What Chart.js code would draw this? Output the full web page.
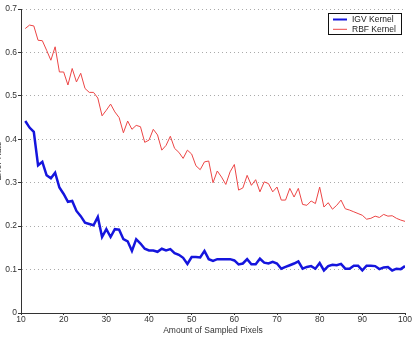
<!DOCTYPE html>
<html>
<head>
<meta charset="utf-8">
<script src="https://cdn.jsdelivr.net/npm/chart.js@4/dist/chart.umd.min.js"></script>
<style>
  html, body { margin: 0; padding: 0; background: #fff; overflow: hidden; }
  #wrap { width: 414px; height: 337px; overflow: hidden; position: relative; }
  #box { position: absolute; left: -6px; top: 0; width: 420px; height: 337px; }
</style>
</head>
<body>
<div id="wrap"><div id="box"><canvas id="c" width="420" height="337"></canvas></div></div>
<script>
const sampledPixels = [11,12,13,14,15,16,17,18,19,20,21,22,23,24,25,26,27,28,29,30,
  31,32,33,34,35,36,37,38,39,40,41,42,43,44,45,46,47,48,49,50,
  51,52,53,54,55,56,57,58,59,60,61,62,63,64,65,66,67,68,69,70,
  71,72,73,74,75,76,77,78,79,80,81,82,83,84,85,86,87,88,89,90,
  91,92,93,94,95,96,97,98,99,100];

const igvKernel = [0.442,0.427,0.417,0.340,0.348,0.317,0.310,0.323,0.289,0.274,
  0.256,0.258,0.235,0.223,0.208,0.205,0.202,0.221,0.175,0.193,
  0.175,0.193,0.192,0.170,0.165,0.143,0.170,0.160,0.148,0.144,
  0.144,0.141,0.148,0.144,0.147,0.138,0.134,0.127,0.113,0.129,
  0.129,0.128,0.143,0.124,0.120,0.124,0.124,0.124,0.124,0.121,
  0.112,0.114,0.124,0.112,0.112,0.125,0.116,0.114,0.118,0.114,
  0.102,0.106,0.110,0.114,0.119,0.102,0.106,0.108,0.102,0.115,
  0.098,0.108,0.111,0.110,0.113,0.102,0.102,0.109,0.109,0.098,
  0.109,0.109,0.108,0.101,0.105,0.106,0.098,0.102,0.101,0.108];

const rbfKernel = [0.655,0.663,0.661,0.628,0.627,0.605,0.582,0.613,0.555,0.555,
  0.525,0.563,0.532,0.552,0.517,0.508,0.508,0.495,0.454,0.467,
  0.481,0.463,0.450,0.415,0.442,0.423,0.432,0.429,0.393,0.398,
  0.423,0.410,0.375,0.386,0.407,0.379,0.370,0.356,0.375,0.366,
  0.339,0.330,0.348,0.350,0.300,0.327,0.313,0.296,0.325,0.342,
  0.283,0.288,0.317,0.294,0.307,0.279,0.302,0.298,0.279,0.290,
  0.260,0.260,0.287,0.267,0.287,0.250,0.248,0.258,0.252,0.290,
  0.244,0.254,0.239,0.248,0.260,0.240,0.237,0.233,0.229,0.225,
  0.216,0.218,0.223,0.220,0.227,0.223,0.224,0.218,0.214,0.211];

const seriesNames = ['IGV Kernel', 'RBF Kernel'];
const xTicks = [10,20,30,40,50,60,70,80,90,100];
const yTicks = [0,0.1,0.2,0.3,0.4,0.5,0.6,0.7];
const xTitle = 'Amount of Sampled Pixels';
const yTitle = 'Error Rate';

const FONT = 'Liberation Sans, Arial, Helvetica, sans-serif';

const insideLegend = {
  id: 'insideLegend',
  afterDraw(chart) {
    const ctx = chart.ctx;
    const area = chart.chartArea;
    const x0 = area.right - 77, y0 = area.top + 4, w = 73, h = 21;
    ctx.save();
    ctx.fillStyle = '#fff';
    ctx.fillRect(x0, y0, w, h);
    ctx.strokeStyle = '#111';
    ctx.lineWidth = 1;
    ctx.strokeRect(Math.round(x0) + 0.5, Math.round(y0) + 0.5, w, h);
    ctx.font = '8.5px ' + FONT;
    ctx.textBaseline = 'middle';
    chart.data.datasets.forEach((ds, i) => {
      const cy = y0 + 6.5 + i * 9.8;
      ctx.strokeStyle = ds.borderColor;
      ctx.lineWidth = i === 0 ? 2 : 1;
      ctx.beginPath();
      ctx.moveTo(x0 + 5, cy);
      ctx.lineTo(x0 + 19, cy);
      ctx.stroke();
      ctx.fillStyle = '#222';
      ctx.fillText(ds.label, x0 + 24, cy + 0.5);
    });
    ctx.restore();
  }
};

new Chart(document.getElementById('c'), {
  type: 'line',
  data: {
    datasets: [
      {
        label: seriesNames[0],
        data: sampledPixels.map((x, i) => ({x: x, y: igvKernel[i]})),
        borderColor: '#1515dd',
        borderWidth: 2.5,
        pointRadius: 0,
        tension: 0,
        fill: false
      },
      {
        label: seriesNames[1],
        data: sampledPixels.map((x, i) => ({x: x, y: rbfKernel[i]})),
        borderColor: '#ec4545',
        borderWidth: 1,
        pointRadius: 0,
        tension: 0,
        fill: false
      }
    ]
  },
  options: {
    responsive: false,
    animation: false,
    devicePixelRatio: 1,
    layout: { padding: { top: 9, right: 9, bottom: 0, left: 0 } },
    plugins: { legend: { display: false }, tooltip: { enabled: false } },
    scales: {
      x: {
        type: 'linear',
        min: 10, max: 100,
        afterBuildTicks: (s) => { s.ticks = xTicks.map(v => ({value: v})); },
        afterFit: (s) => { s.height = 24; },
        ticks: { color: '#333', font: { family: FONT, size: 8.5 }, padding: 0, maxRotation: 0 },
        grid: { drawOnChartArea: false, drawTicks: true, tickLength: 2, tickColor: '#333' },
        border: { display: true, color: '#333', width: 1 },
        title: { display: true, text: xTitle, color: '#333', font: { family: FONT, size: 8.5 }, padding: { top: 0, bottom: 1 } }
      },
      y: {
        type: 'linear',
        min: 0, max: 0.7,
        afterBuildTicks: (s) => { s.ticks = yTicks.map(v => ({value: v})); },
        afterFit: (s) => { s.width = 27; },
        ticks: {
          color: '#333', font: { family: FONT, size: 8.5 }, padding: 1,
          callback: (v) => String(Math.round(v * 10) / 10)
        },
        grid: {
          color: (c) => (c.tick && c.tick.value === 0) ? 'rgba(0,0,0,0)' : '#aaa',
          lineWidth: 1, drawTicks: true, tickLength: 3, tickColor: '#333'
        },
        border: { display: true, color: '#333', width: 1, dash: [1, 3] },
        title: { display: true, text: yTitle, color: '#333', font: { family: FONT, size: 8.5 }, padding: 0 }
      }
    }
  },
  plugins: [insideLegend]
});
</script>
</body>
</html>
